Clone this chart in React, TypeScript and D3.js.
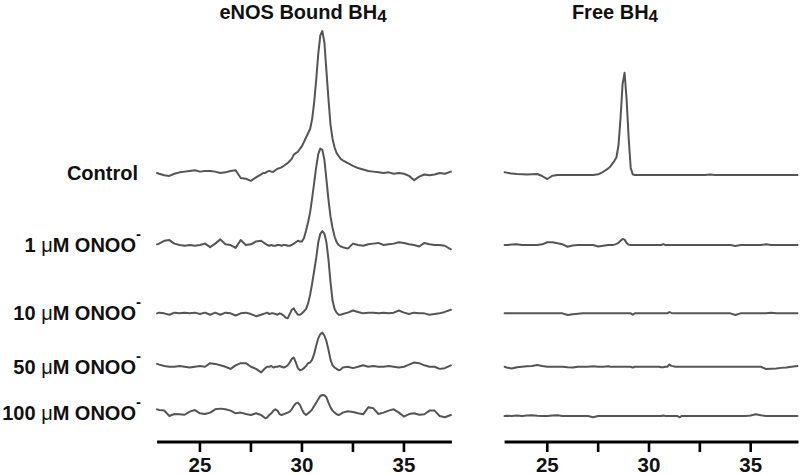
import React from "react";
import * as d3 from "d3";

// Retention time grid (min)
const times = [
  22.9, 23, 23.25, 23.5, 23.75, 24, 24.25, 24.5, 24.75, 25, 25.25, 25.5, 25.75, 26, 26.25, 26.5, 26.75, 27, 27.25, 27.5, 27.75, 28,
  28.1, 28.2, 28.3, 28.4, 28.5, 28.6, 28.7, 28.8, 28.9, 29.0,
  29.1, 29.2, 29.3, 29.4, 29.5, 29.6, 29.7, 29.8, 29.9, 30.0,
  30.1, 30.2, 30.3, 30.4, 30.5, 30.6, 30.7, 30.8, 30.9, 31.0,
  31.1, 31.2, 31.3, 31.4, 31.5, 31.6, 31.7, 31.8, 31.9, 32.0,
  32.25, 32.5, 32.75, 33, 33.25, 33.5, 33.75, 34, 34.25, 34.5, 34.75, 35, 35.25, 35.5, 35.75, 36, 36.25, 36.5, 36.75, 37, 37.3,
];

const rowLabels = ["Control", "1", "10", "50", "100"];
const panelTitles = ["eNOS Bound BH", "Free BH"];
const majorTicks = [25, 30, 35];
const minorTicks = [27.5, 32.5];

// eNOS bound BH4 traces (fluorescence, arbitrary units)
const boundControl = [
  0, -0.5, -1.5, -2, -0.5, 0.5, 1, 1.5, 2, 1, 1.5, 1.5, 1, 0, 0.5, 1.5, 2, -3.5, -4, -5.5, -3, -1,
  0, 0, 1, 1.5, 1, 1, 2, 3, 3.5, 4,
  5, 6, 7, 8.5, 10, 13, 14, 15, 17, 19,
  22, 25, 28, 31, 38, 50, 66, 84, 97, 100,
  92, 72, 52, 34, 24, 18, 14, 12, 10, 9,
  7, 5, 3.5, 2.5, 1.5, 1, 0.5, 0, 0.5, -0.5, 0, -0.5, -2, -5, -2.5, -1, -1.5, -1, 0, -0.5, 1,
];
const bound1 = [
  0.5, 1, 3, 3.5, 1, 0, -0.5, 0, -0.5, 0, 1, -1.5, 1, 4, 0.5, 0, -2, 3.5, 0, 0.5, 2.5, 3,
  2, 1, 0, -0.5, 0, -0.5, -0.5, 0, 0, -0.5,
  0, 0, -0.5, -0.5, 0, 1, 2, 3, 2.5, 2.5,
  5, 10, 16, 23, 33, 44, 55, 64, 68, 67,
  60, 46, 32, 20, 12, 6, 2, 0, -1, -1.5,
  -2.5, 1, 0, -0.5, 0.5, 1, 1.5, 0, 0.5, 1, 2, 1.5, 0.5, 0, -1, 1.5, 0.5, 0, 0, -0.5, -3,
];
const bound10 = [
  0, 0.5, 0, -1, 0.5, 0, 0.5, 0, 0.5, -0.5, 0.5, -1, 0.5, -1, 0.5, 0, -1.5, 0, 0.5, -0.5, -2, -1,
  -0.5, 0, 0.5, -0.5, 0, 0, -0.5, -1, 0, -0.5,
  -1.5, -3, -3.5, -0.5, 2.5, 3.5, 1, -1, -1, 0,
  1.5, 3, 7, 13, 21, 30, 39, 50, 56, 58,
  56, 50, 38, 22, 9, 3, 0.5, -1, -1, -0.5,
  0.5, 2, 1, 0, 0.5, 0.5, 0, 0.5, 0, 0.5, 2, 0.5, -0.5, 0.5, 0, 0, -1, -0.5, 0, 1, 2.5,
];
const bound50 = [
  2, 1.5, 0.5, 0, 0, 0.5, 0, -0.5, 0, 0.5, 0, 2.5, 2, 1, 0, -1.5, 1, 2.5, 2.5, 0, -1.5, -4,
  -2.5, -1, 0, 0, 0.5, -0.5, 0, 0, 0.5, 0,
  -0.5, 0, 1, 3, 5.5, 6.5, 3, -1, -2.5, -2,
  -1, 0.5, 2.5, 3, 5, 9, 15, 20, 23, 24,
  22, 18, 12, 5, 1, -0.5, -1.5, -2.5, -2, -0.5,
  0, -1, 0, 1, 0, 0.5, 0, 0, 0.5, 0, -0.5, 0, 1.5, 3, 2.5, 1, 0, 0, -1.5, -1, 1,
];
const bound100 = [
  2.8, 2.3, 2, -1.9, -0.5, -0.7, -1, 1.2, 2.3, 0, -0.5, 0.5, 2.8, 3.3, 2.8, 1.9, 0, 0.5, -0.5, -1.2, 0, -1.2,
  -2.3, -3.5, -2.8, -1.2, 0, 1.9, 2.8, 1.9, -0.5, -1.2,
  -0.7, 0, 0.5, 1.2, 2.8, 5.2, 7, 7.5, 5.9, 2.8,
  0, -1.2, 0, 1.2, 2.8, 5.2, 7.5, 9.9, 12.2, 12.9,
  12.7, 11.3, 7.5, 4.2, 1.9, 0.5, -0.7, -1.2, -0.5, 0.5,
  1.4, 0.9, 0, -0.7, 4.2, 3.5, -0.5, 0.5, 1.9, 2.8, 0.5, -2.3, -0.5, 0, -1, -0.7, 1.9, 1.9, -1.9, -2.8, -1.2,
];

// Free BH4 traces
const freeControl = [
  1.9, 1.7, 1, 0.7, 0.5, 0.3, 0.5, 0.7, -0.7, -2.8, -0.5, 0, 0, 0, 0, 0, 0, 0, 0, 0.5, 2.3, 4.7,
  6, 8, 10, 12.5, 21, 40, 64, 72, 53, 26,
  5, 0.5, 0, 0, 0, 0, 0, 0, 0, 0,
  0, 0, 0, 0, 0, 0, 0, 0, 0, 0,
  0, 0, 0, 0, 0, 0, 0, 0, 0, 0,
  0, 0, 0, 0.4, 0, 0, 0, 0, 0, 0, 0, 0, 0, 0, 0, 0, 0, 0, 0, 0, 0,
];
const free1 = [
  0, 0, 0.3, 0.5, 0, 0, 0, 0, 0.5, 2, 2, 1.2, 0.5, -1.2, -0.3, 0, 0, 0, 0, -1, -0.5, 0,
  0, 0, 0.3, 0.8, 1.5, 3, 4.2, 3.8, 1.5, 0.3,
  0, 0, 0, 0, 0, 0, 0, 0, 0, 0,
  0, 0, 0, 0, 0, 0, 0.6, 0, 0, 0,
  0, 0, 0, 0, 0, 0, 0, 0, 0, 0,
  0, 0, 0, 0, 0, 0, 0, 0, -0.6, 0, 0, 0, 0, 0, 0.5, 0, 0, 0, 0, 0, 0,
];
const free10 = [
  0, 0, 0, 0, 0, 0, 0, 0, 0, 0, 0, 0, 0, -1.2, -0.6, -0.3, 0, 0, 0, 0, 0, 0,
  0, 0, 0, 0, 0, 0, 0, 0, 0, 0,
  0, -0.9, 0, 0, 0, 0, 0, 0, 0, 0,
  0, 0, 0, 0, 0, 0, 0, 0, 0, 0.9,
  0.3, 0, 0, 0, 0, 0, 0, 0, 0, 0,
  0, 0, 0, 0, 0, 0, 0, 0, -1.2, 0, 0, 0, 0, 0, 0, 0.5, 0, 0, 0, 0, 0,
];
const free50 = [
  0, -0.5, -1.2, -0.3, 0, 0.3, 0.5, 1.2, 0.5, 0, 0, 0, 0, -0.3, -0.5, 0, 0, 0, 0.3, 0, 0, 0.3,
  0, 0, 0, 0, 0, 0, 0, 0, 0, 0,
  0, -0.6, 0, 0, 0, 0, 0, 0, 0, 0,
  0, 0, 0, 0, 0, -0.4, -0.4, 0, 0, 1.6,
  0.6, 0.3, 0, 0, 0, 0, 0, 0, 0, 0,
  0, 0, 0, 0, 0, 0, 0, 0, 0, 0, 0, 0, 0, 0, -1.6, -1.4, -1.2, -0.8, -0.5, 0, 0.5,
];
const free100 = [
  0, 0.2, 0, 0.3, 0, 0.3, 0.5, 0.2, 0, 0, 0.3, 0.5, 0, 0, 0, 0, 0, 0, -0.9, 0, 0, 0,
  0, 0, 0, 0, 0, 0, 0, 0, 0, 0,
  0, 0, 0, 0, 0, 0, 0, 0, 0, 0,
  0, 0, 0, 0, 0, 0, 0.3, 0, 0, 0,
  0, 0, 0, 0, -0.9, 0, 0, 0, 0, 0,
  0, 0, 0, 0, 0, 0, 0, 0, 0, 0, 0, 0.4, 1.2, 0.5, 0, 0, 0, 0, 0, 0, 0,
];

// Vertical stacking offsets for each trace (same units as signal)
const boundOffsets = [189.4, 138.7, 90.6, 53, 20.2];
const freeOffsets = [188, 138.7, 90.6, 53, 18.3];

const boundSeries = [boundControl, bound1, bound10, bound50, bound100];
const freeSeries = [freeControl, free1, free10, free50, free100];

const W = 800;
const H = 475;
const FONT = "'Liberation Sans', Arial, Helvetica, sans-serif";
const axisY = 442;
const domain: [number, number] = [22.9, 37.35];

const yScale = d3.scaleLinear().domain([0, 300]).range([axisY, 16]);

const panels = [
  { title: panelTitles[0], titleX: 303, series: boundSeries, offsets: boundOffsets, x: d3.scaleLinear().domain(domain).range([157.1, 451.9]) },
  { title: panelTitles[1], titleX: 615, series: freeSeries, offsets: freeOffsets, x: d3.scaleLinear().domain(domain).range([504.6, 798.5]) },
];

export default function App() {
  return (
    <div style={{ position: "absolute", left: 0, top: 0 }}>
      <svg width={W} height={H} style={{ display: "block", background: "#fff" }} fontFamily={FONT}>
        {panels.map((p, pi) => {
          const [r0, r1] = p.x.range();
          return (
            <g key={pi}>
              <text x={p.titleX} y={19} textAnchor="middle" fontSize={20} fontWeight="bold" fill="#111">
                {p.title}
                <tspan fontSize={17} dy={2.5}>4</tspan>
              </text>
              {p.series.map((vals, si) => {
                const off = p.offsets[si];
                const path = d3
                  .line<number>()
                  .x((_, i) => p.x(times[i]))
                  .y((d) => yScale(d + off))
                  .curve(d3.curveLinear)(vals);
                return (
                  <path
                    key={si}
                    d={path || ""}
                    fill="none"
                    stroke="#555"
                    strokeWidth={2}
                    strokeLinejoin="round"
                    strokeLinecap="round"
                  />
                );
              })}
              <line x1={r0} x2={r1} y1={axisY} y2={axisY} stroke="#000" strokeWidth={3} />
              {[...majorTicks, ...minorTicks].map((t) => (
                <line key={t} x1={p.x(t)} x2={p.x(t)} y1={axisY} y2={axisY + 10} stroke="#000" strokeWidth={2.6} />
              ))}
              {majorTicks.map((t) => (
                <text key={t} x={p.x(t)} y={472} textAnchor="middle" fontSize={20.5} fontWeight="bold" fill="#111">
                  {t}
                </text>
              ))}
            </g>
          );
        })}
        {rowLabels.map((lab, i) => {
          const y = yScale(boundOffsets[i]) + 7;
          if (i === 0) {
            return (
              <text key={i} x={138} y={y} textAnchor="end" fontSize={20} fontWeight="bold" fill="#111">
                {lab}
              </text>
            );
          }
          return (
            <text key={i} x={141} y={y} textAnchor="end" fontSize={20} fontWeight="bold" fill="#111">
              {lab + " "}
              <tspan fontWeight="normal">μ</tspan>
              <tspan>M ONOO</tspan>
              <tspan fontSize={15} dy={-13}>-</tspan>
            </text>
          );
        })}
      </svg>
    </div>
  );
}
